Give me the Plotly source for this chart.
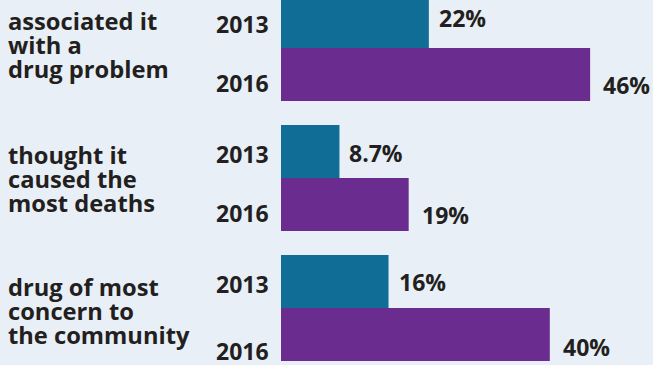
import plotly.graph_objects as go

# Survey results: share of respondents, 2013 vs 2016
categories = ["associated it with a drug problem",
              "thought it caused the most deaths",
              "drug of most concern to the community"]
category_lines = [["associated it", "with a", "drug problem"],
                  ["thought it", "caused the", "most deaths"],
                  ["drug of most", "concern to", "the community"]]
years = ["2013", "2016"]
values_2013 = [22, 8.7, 16]
values_2016 = [46, 19, 40]
value_text_2013 = ["22%", "8.7%", "16%"]
value_text_2016 = ["46%", "19%", "40%"]

BG = "#e8eff6"
TEXT = "#231f20"
TEAL = "#106e96"
PURPLE = "#6a2c8f"
FONT = dict(family="Open Sans", size=23, color=TEXT, weight=700)
CAT_FONT = dict(family="Open Sans", size=23.7, color=TEXT, weight=700)

fig = go.Figure()
fig.add_trace(go.Bar(y=categories, x=values_2013, name=years[0], orientation="h",
                     marker=dict(color=TEAL, line=dict(width=0))))
fig.add_trace(go.Bar(y=categories, x=values_2016, name=years[1], orientation="h",
                     marker=dict(color=PURPLE, line=dict(width=0))))

W, H = 653, 365
px_per_unit = 6.72
x0_px = 281
group_px = 130
first_center_px = 48
bar_px = 53

annotations = []
# vertical nudges for the labels, in pixels
year_shift = {"2013": [-2, -2, -2], "2016": [-8, -8, -16]}
value_shift = {"2013": [4, -1, 0], "2016": [-10, -10, -12]}
line_shift = [23, -1, -25]
group_shift = [4, 0, -2]

for i, cat in enumerate(categories):
    for yr, vals, txts, sign in ((years[0], values_2013, value_text_2013, 1),
                                 (years[1], values_2016, value_text_2016, -1)):
        off = sign * bar_px / 2
        annotations.append(dict(x=0, y=cat, xref="x", yref="y", text=yr,
                                showarrow=False, xanchor="right", yanchor="middle",
                                xshift=-10, yshift=off + year_shift[yr][i], font=FONT))
        annotations.append(dict(x=vals[i], y=cat, xref="x", yref="y", text=txts[i],
                                showarrow=False, xanchor="left", yanchor="middle",
                                xshift=8 if sign == 1 else 11,
                                yshift=off + value_shift[yr][i], font=FONT))
    for j, line in enumerate(category_lines[i]):
        annotations.append(dict(x=0, y=cat, xref="paper", yref="y", text=line,
                                showarrow=False, xanchor="left", yanchor="middle",
                                xshift=6, yshift=line_shift[j] + group_shift[i],
                                font=CAT_FONT))

fig.update_layout(
    width=W, height=H,
    margin=dict(l=0, r=0, t=0, b=0),
    paper_bgcolor=BG, plot_bgcolor=BG,
    barmode="group", bargap=24 / group_px, bargroupgap=0,
    showlegend=False,
    xaxis=dict(range=[-x0_px / px_per_unit, (W - x0_px) / px_per_unit],
               visible=False, fixedrange=True),
    yaxis=dict(type="category",
               range=[(H - first_center_px) / group_px, -first_center_px / group_px],
               visible=False, fixedrange=True),
    annotations=annotations,
)

fig.write_html("out.html")
